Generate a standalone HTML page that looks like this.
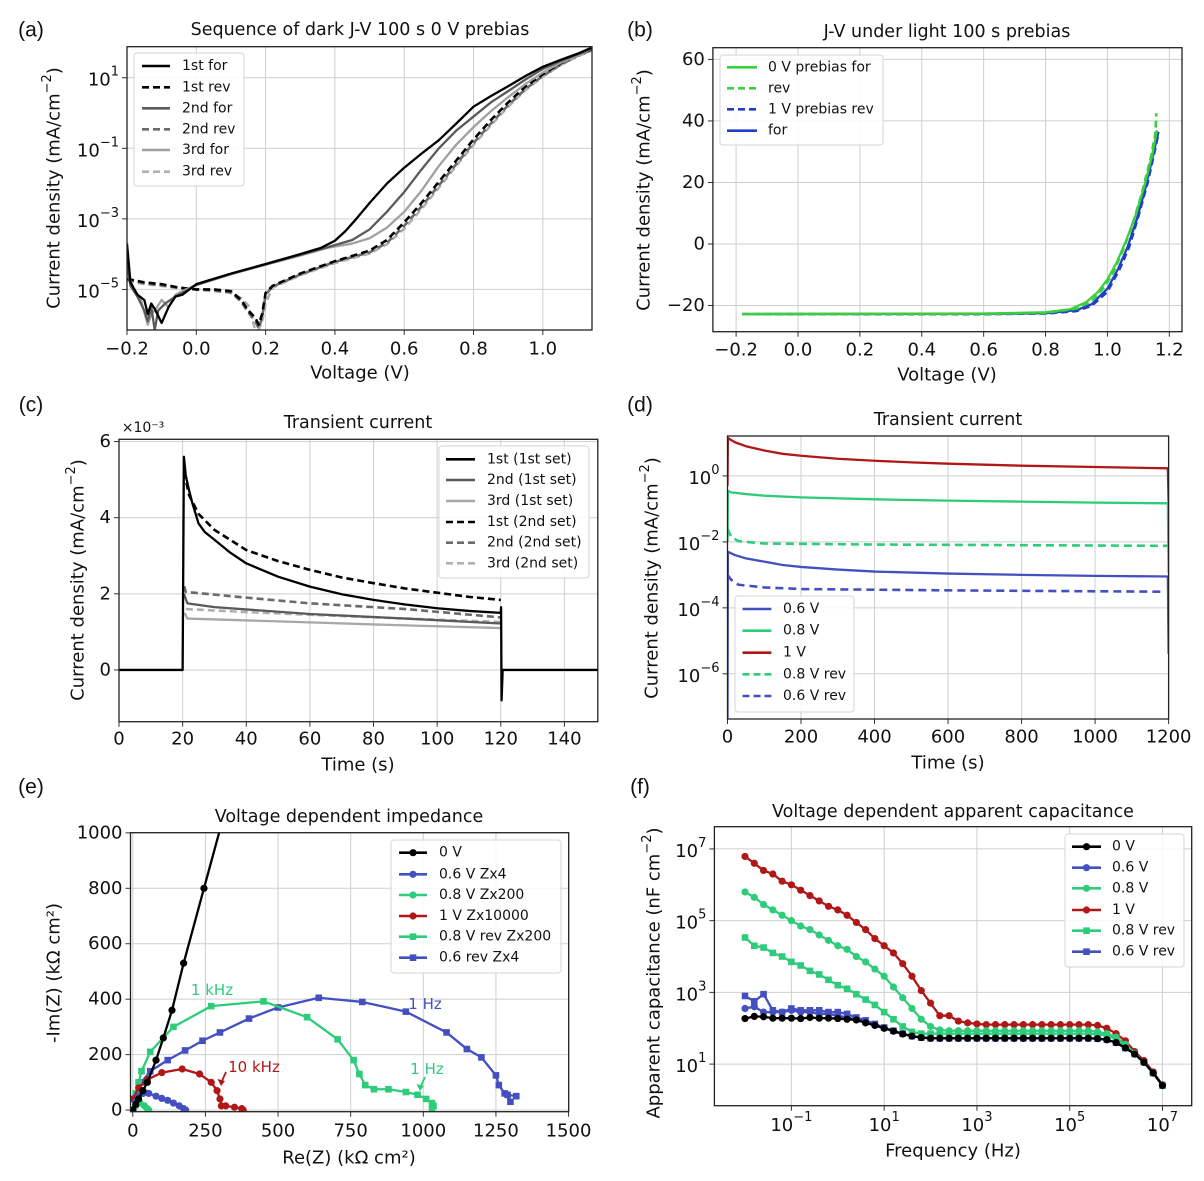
<!DOCTYPE html>
<html><head><meta charset="utf-8"><title>Figure</title>
<style>
html,body{margin:0;padding:0;background:#fff;}
svg{display:block;font-family:"DejaVu Sans","Liberation Sans",sans-serif;}
</style></head>
<body>
<svg id="fig" width="1204" height="1181" viewBox="0 0 1204 1181" xmlns="http://www.w3.org/2000/svg">
<defs id="defs"></defs>
</svg>
<script>
// ---------- Panel (a) data: voltage (V), log10 current density ----------
const aFor1 = [[-0.2,-3.7],[-0.19,-4.8],[-0.17,-5.15],[-0.15,-5.3],[-0.14,-5.7],[-0.13,-5.4],[-0.12,-5.55],[-0.1,-5.95],[-0.08,-5.5],[-0.06,-5.2],[-0.04,-5.15],[-0.02,-5.0],[0,-4.85],[0.1,-4.55],[0.2,-4.28],[0.3,-4.0],[0.36,-3.82],[0.4,-3.62],[0.43,-3.35],[0.46,-3.02],[0.5,-2.55],[0.55,-2.0],[0.6,-1.55],[0.65,-1.15],[0.7,-0.77],[0.75,-0.3],[0.8,0.18],[0.85,0.48],[0.9,0.76],[0.95,1.05],[1.0,1.31],[1.05,1.5],[1.1,1.68],[1.14,1.85]];
const aRev1 = [[-0.2,-4.7],[-0.15,-4.8],[-0.1,-4.85],[-0.05,-4.95],[0,-5.0],[0.05,-5.0],[0.1,-5.05],[0.13,-5.3],[0.15,-5.6],[0.17,-5.8],[0.18,-6.0],[0.19,-5.7],[0.2,-5.1],[0.22,-4.9],[0.3,-4.55],[0.4,-4.2],[0.5,-3.9],[0.55,-3.6],[0.6,-3.1],[0.65,-2.55],[0.7,-1.95],[0.75,-1.35],[0.8,-0.75],[0.85,-0.2],[0.9,0.3],[0.95,0.75],[1.0,1.1],[1.05,1.4],[1.1,1.65],[1.14,1.8]];
const aFor2 = [[-0.2,-4.2],[-0.19,-4.9],[-0.17,-5.2],[-0.15,-5.6],[-0.14,-5.9],[-0.13,-5.5],[-0.12,-6.15],[-0.11,-5.6],[-0.09,-5.4],[-0.06,-5.2],[-0.03,-5.05],[0,-4.87],[0.1,-4.56],[0.2,-4.29],[0.3,-4.02],[0.38,-3.8],[0.45,-3.6],[0.5,-3.3],[0.55,-2.8],[0.6,-2.24],[0.65,-1.6],[0.7,-1.0],[0.75,-0.5],[0.8,-0.1],[0.85,0.3],[0.9,0.62],[0.95,0.95],[1.0,1.25],[1.05,1.47],[1.1,1.66],[1.14,1.83]];
const aRev2 = [[-0.2,-4.72],[-0.15,-4.82],[-0.1,-4.88],[-0.05,-4.95],[0,-5.0],[0.05,-5.02],[0.1,-5.08],[0.13,-5.35],[0.15,-5.65],[0.17,-5.9],[0.18,-6.1],[0.19,-5.8],[0.2,-5.15],[0.22,-4.92],[0.3,-4.58],[0.4,-4.22],[0.5,-3.95],[0.55,-3.68],[0.6,-3.2],[0.65,-2.65],[0.7,-2.05],[0.75,-1.45],[0.8,-0.85],[0.85,-0.3],[0.9,0.22],[0.95,0.68],[1.0,1.05],[1.05,1.36],[1.1,1.62],[1.14,1.78]];
const aFor3 = [[-0.2,-4.5],[-0.18,-5.0],[-0.16,-5.3],[-0.14,-6.0],[-0.13,-5.7],[-0.12,-5.6],[-0.1,-5.3],[-0.08,-5.5],[-0.06,-5.15],[-0.03,-5.0],[0,-4.88],[0.1,-4.57],[0.2,-4.3],[0.3,-4.04],[0.38,-3.82],[0.45,-3.7],[0.5,-3.55],[0.55,-3.25],[0.6,-2.8],[0.65,-2.2],[0.7,-1.5],[0.75,-0.9],[0.8,-0.4],[0.85,0.05],[0.9,0.45],[0.95,0.82],[1.0,1.15],[1.05,1.42],[1.1,1.63],[1.14,1.82]];
const aRev3 = [[-0.2,-4.75],[-0.15,-4.85],[-0.1,-4.9],[-0.05,-4.97],[0,-5.0],[0.05,-5.05],[0.1,-5.1],[0.13,-5.25],[0.15,-5.45],[0.17,-6.15],[0.18,-6.15],[0.19,-5.9],[0.2,-5.4],[0.22,-4.95],[0.3,-4.6],[0.4,-4.25],[0.5,-3.98],[0.55,-3.72],[0.6,-3.28],[0.65,-2.72],[0.7,-2.12],[0.75,-1.5],[0.8,-0.9],[0.85,-0.35],[0.9,0.18],[0.95,0.65],[1.0,1.03],[1.05,1.35],[1.1,1.6],[1.14,1.77]];
const aXTicks = [-0.2,0,0.2,0.4,0.6,0.8,1.0];
const aXTickLabels = ["\u22120.2","0.0","0.2","0.4","0.6","0.8","1.0"];
const aYTicks = [1,-1,-3,-5];

// ---------- Panel (b) data: voltage (V), J (mA/cm2) ----------
const bGreenFor = [[-0.18,-22.7],[0.6,-22.6],[0.8,-22.2],[0.88,-21.2],[0.93,-19],[0.97,-15.5],[1.0,-11.5],[1.03,-6],[1.06,1],[1.09,9],[1.12,19],[1.145,29],[1.16,37]];
const bGreenRev = [[-0.18,-22.8],[0.6,-22.7],[0.8,-22.4],[0.9,-21.0],[0.95,-18.5],[0.99,-14],[1.02,-9],[1.05,-2],[1.08,6],[1.11,16],[1.14,28],[1.155,36],[1.158,42.5]];
const bBlueRev = [[-0.18,-22.8],[0.6,-22.8],[0.8,-22.6],[0.9,-21.8],[0.95,-20],[1.0,-15.5],[1.04,-8],[1.07,-1],[1.1,9],[1.13,20],[1.15,29],[1.165,36]];
const bBlueFor = [[-0.18,-22.8],[0.6,-22.7],[0.8,-22.5],[0.9,-21.5],[0.95,-19.5],[1.0,-14.5],[1.035,-8],[1.065,-1],[1.095,8],[1.125,19],[1.15,30],[1.165,36.5]];
const bXTicks = [-0.2,0,0.2,0.4,0.6,0.8,1.0,1.2];
const bXTickLabels = ["\u22120.2","0.0","0.2","0.4","0.6","0.8","1.0","1.2"];
const bYTicks = [-20,0,20,40,60];
const bYTickLabels = ["\u221220","0","20","40","60"];

// ---------- Panel (c) data: time (s), J (x1e-3 mA/cm2) ----------
const c1st1 = [[0,0],[20,0],[20.4,5.6],[21,5.1],[22,4.73],[23,4.4],[25,3.85],[27,3.62],[30,3.42],[35,3.08],[40,2.8],[50,2.45],[60,2.19],[70,1.99],[80,1.84],[90,1.72],[100,1.62],[110,1.55],[120,1.5],[120.1,1.65],[120.25,-0.8],[120.6,0],[150.5,0]];
const c2nd1 = [[20.4,2.0],[21.5,1.75],[30,1.65],[60,1.47],[90,1.35],[120,1.22]];
const c3rd1 = [[20.6,1.5],[21.5,1.35],[60,1.25],[90,1.17],[120,1.1]];
const c1st2 = [[20.5,5.2],[22,4.6],[25,4.1],[30,3.68],[40,3.15],[50,2.86],[60,2.63],[70,2.43],[80,2.28],[90,2.14],[100,2.03],[110,1.92],[120,1.84]];
const c2nd2 = [[20.5,2.2],[21,2.05],[40,1.9],[60,1.75],[90,1.6],[120,1.38]];
const c3rd2 = [[21,1.6],[40,1.52],[60,1.45],[90,1.35],[120,1.26]];
const cXTicks = [0,20,40,60,80,100,120,140];
const cYTicks = [0,2,4,6];

// ---------- Panel (d) data: time (s), log10 J ----------
const d06 = [[0,-7.37],[1,-2.3],[20,-2.4],[50,-2.5],[100,-2.6],[150,-2.7],[200,-2.76],[300,-2.84],[400,-2.9],[600,-2.96],[800,-3.0],[1000,-3.03],[1198,-3.05],[1200,-5.4]];
const d08 = [[0,-2.0],[1,-0.45],[10,-0.5],[50,-0.55],[100,-0.6],[200,-0.65],[400,-0.71],[600,-0.75],[800,-0.78],[1000,-0.81],[1198,-0.83],[1200,-2.95]];
const d10 = [[0,-0.3],[1,1.15],[5,1.12],[20,1.02],[50,0.9],[100,0.77],[150,0.67],[200,0.61],[300,0.52],[400,0.46],[500,0.41],[600,0.37],[800,0.31],[1000,0.27],[1198,0.23],[1200,-0.8]];
const d08rev = [[0,-1.6],[10,-1.85],[30,-1.98],[100,-2.05],[400,-2.08],[800,-2.1],[1200,-2.12]];
const d06rev = [[0,-3.0],[10,-3.15],[30,-3.3],[100,-3.38],[200,-3.43],[600,-3.47],[1180,-3.51]];
const dXTicks = [0,200,400,600,800,1000,1200];
const dYTicks = [0,-2,-4,-6];

// ---------- Panel (e) data: Re(Z), -Im(Z) (kOhm cm2) ----------
const e0V = [[0,0],[10,20],[20,40],[35,70],[50,100],[80,180],[105,260],[135,360],[175,530],[245,800],[310,1050]];
const e06 = [[0,0],[10,30],[20,50],[35,60],[55,60],[80,50],[100,42],[120,35],[140,25],[160,15],[175,5],[182,0]];
const e08 = [[0,0],[10,15],[25,25],[40,15],[50,5],[55,0]];
const e10 = [[0,40],[20,80],[50,110],[100,135],[170,148],[230,130],[270,100],[290,70],[300,40],[305,15],[320,15],[350,10],[375,5],[380,0]];
const e08rev = [[0,0],[10,60],[20,100],[30,140],[60,210],[140,300],[270,375],[450,392],[600,335],[705,255],[760,180],[780,130],[800,90],[830,75],[880,75],[940,65],[980,55],[1010,40],[1030,25],[1035,15],[1030,5]];
const e06rev = [[0,0],[30,100],[60,140],[120,180],[180,215],[240,250],[300,280],[400,330],[500,370],[640,405],[790,390],[940,355],[1080,280],[1150,220],[1200,190],[1250,125],[1260,90],[1280,60],[1300,30],[1290,55],[1320,50]];
const eXTicks = [0,250,500,750,1000,1250,1500];
const eYTicks = [0,200,400,600,800,1000];

// ---------- Panel (f) data: log10 f = -2 + 0.2*i, log10 C ----------
const fLogFreq = [-2,-1.8,-1.6,-1.4,-1.2,-1,-0.8,-0.6,-0.4,-0.2,0,0.2,0.4,0.6,0.8,1,1.2,1.4,1.6,1.8,2,2.2,2.4,2.6,2.8,3,3.2,3.4,3.6,3.8,4,4.2,4.4,4.6,4.8,5,5.2,5.4,5.6,5.8,6,6.2,6.4,6.6,6.8,7];
const f0V = [2.27,2.33,2.32,2.28,2.28,2.28,2.27,2.3,2.28,2.28,2.27,2.25,2.23,2.15,2.08,2.0,1.92,1.84,1.78,1.74,1.72,1.72,1.72,1.72,1.72,1.72,1.72,1.72,1.72,1.72,1.72,1.72,1.72,1.72,1.72,1.72,1.72,1.72,1.71,1.68,1.6,1.45,1.28,1.05,0.75,0.4];
const f06 = [2.55,2.6,2.45,2.45,2.45,2.5,2.45,2.45,2.4,2.4,2.35,2.3,2.25,2.18,2.08,2.0,1.92,1.84,1.78,1.74,1.72,1.72,1.72,1.72,1.72,1.72,1.72,1.72,1.72,1.72,1.72,1.72,1.72,1.72,1.72,1.72,1.72,1.72,1.71,1.68,1.6,1.45,1.28,1.05,0.75,0.42];
const f08 = [5.8,5.65,5.45,5.3,5.15,5.0,4.85,4.75,4.6,4.45,4.3,4.2,4.0,3.85,3.65,3.45,3.15,2.85,2.55,2.25,2.05,1.95,1.93,1.93,1.93,1.93,1.93,1.93,1.93,1.93,1.93,1.93,1.93,1.93,1.93,1.93,1.93,1.93,1.9,1.85,1.75,1.55,1.3,1.05,0.75,0.4];
const f10 = [6.79,6.6,6.4,6.3,6.1,6.0,5.85,5.7,5.55,5.4,5.3,5.15,4.95,4.75,4.5,4.3,4.1,3.8,3.45,3.05,2.7,2.35,2.35,2.2,2.15,2.12,2.1,2.1,2.1,2.1,2.1,2.1,2.1,2.1,2.1,2.1,2.1,2.1,2.08,2.0,1.85,1.65,1.35,1.1,0.78,0.42];
const f08rev = [4.53,4.3,4.25,4.1,4.0,3.85,3.75,3.6,3.5,3.35,3.2,3.1,2.95,2.8,2.65,2.45,2.25,2.05,1.9,1.85,1.85,1.85,1.85,1.85,1.85,1.85,1.85,1.85,1.85,1.85,1.85,1.85,1.85,1.85,1.85,1.85,1.85,1.85,1.83,1.8,1.7,1.5,1.28,1.05,0.75,0.4];
const f06rev = [2.9,2.75,2.95,2.5,2.45,2.55,2.5,2.5,2.5,2.45,2.45,2.4,2.3,2.22,2.12,2.02,1.93,1.85,1.78,1.74,1.72,1.72,1.72,1.72,1.72,1.72,1.72,1.72,1.72,1.72,1.72,1.72,1.72,1.72,1.72,1.72,1.72,1.72,1.71,1.68,1.6,1.45,1.28,1.05,0.75,0.4];
const fXTicks = [-1,1,3,5,7];
const fYTicks = [1,3,5,7];

// ---------- helpers ----------
const NS = "http://www.w3.org/2000/svg";
const svg = document.getElementById('fig');
const defs = document.getElementById('defs');
function mk(tag, attrs, parent, name, inter) {
  const e = document.createElementNS(NS, tag);
  for (const k in attrs) e.setAttribute(k, attrs[k]);
  
  
  (parent || svg).appendChild(e);
  return e;
}
function txt(x, y, s, size, parent, name, extra) {
  const a = Object.assign({x: x, y: y, 'font-size': size, 'text-anchor': 'middle', 'dominant-baseline': 'central', fill: '#111'}, extra || {});
  const t = mk('text', a, parent, name, false);
  t.textContent = s;
  return t;
}
function powLabel(x, y, exp, parent, name, anchor) {
  const t = mk('text', {x: x, y: y, 'font-size': 18, 'text-anchor': anchor, 'dominant-baseline': 'central', fill: '#111'}, parent, name, false);
  const base = document.createElementNS(NS, 'tspan');
  base.textContent = '10';
  t.appendChild(base);
  const sup = document.createElementNS(NS, 'tspan');
  sup.setAttribute('dy', '-8');
  sup.setAttribute('font-size', '13');
  sup.textContent = exp < 0 ? '\u2212' + (-exp) : String(exp);
  t.appendChild(sup);
  return t;
}
function makeAxes(id, L, R, T, B, xd, yd) {
  const g = mk('g', {}, svg, id + '-panel', false);
  const x = v => L + (v - xd[0]) / (xd[1] - xd[0]) * (R - L);
  const y = v => B - (v - yd[0]) / (yd[1] - yd[0]) * (B - T);
  const cp = mk('clipPath', {id: 'clip-' + id}, defs, id + '-clip', false);
  mk('rect', {x: L, y: T, width: R - L, height: B - T}, cp, id + '-clip-rect', false);
  const grid = mk('g', {stroke: '#cfcfcf', 'stroke-width': 1}, g, id + '-grid', false);
  const plot = mk('g', {'clip-path': 'url(#clip-' + id + ')'}, g, id + '-plot-area', false);
  return {g, x, y, L, R, T, B, grid, plot, id};
}
function xTicks(ax, ticks, labels, ly, pow) {
  ticks.forEach((t, i) => {
    const px = ax.x(t);
    mk('line', {x1: px, x2: px, y1: ax.T, y2: ax.B}, ax.grid, ax.id + '-x-grid', false);
    mk('line', {x1: px, x2: px, y1: ax.B, y2: ax.B + 5, stroke: '#333', 'stroke-width': 1}, ax.g, ax.id + '-x-tick', false);
    if (pow) powLabel(px, ly, t, ax.g, ax.id + '-x-tick-label', 'middle');
    else txt(px, ly, labels ? labels[i] : String(t), 18, ax.g, ax.id + '-x-tick-label');
  });
}
function yTicks(ax, ticks, labels, pow) {
  ticks.forEach((t, i) => {
    const py = ax.y(t);
    mk('line', {x1: ax.L, x2: ax.R, y1: py, y2: py}, ax.grid, ax.id + '-y-grid', false);
    mk('line', {x1: ax.L - 5, x2: ax.L, y1: py, y2: py, stroke: '#333', 'stroke-width': 1}, ax.g, ax.id + '-y-tick', false);
    if (pow) powLabel(ax.L - 8, py + 2, t, ax.g, ax.id + '-y-tick-label', 'end');
    else txt(ax.L - 8, py, labels ? labels[i] : String(t), 18, ax.g, ax.id + '-y-tick-label', {'text-anchor': 'end'});
  });
}
function frame(ax) {
  mk('rect', {x: ax.L, y: ax.T, width: ax.R - ax.L, height: ax.B - ax.T, fill: 'none', stroke: '#222', 'stroke-width': 1.3}, ax.g, ax.id + '-frame', false);
}
function line(ax, data, color, dash, name, w) {
  const pts = data.map(d => ax.x(d[0]).toFixed(2) + ',' + ax.y(d[1]).toFixed(2)).join(' ');
  const a = {points: pts, fill: 'none', stroke: color, 'stroke-width': w || 2.3, 'stroke-linejoin': 'round'};
  if (dash) a['stroke-dasharray'] = dash;
  return mk('polyline', a, ax.plot, name, false);
}
function markers(ax, data, color, shape, name) {
  const g = mk('g', {fill: color}, ax.plot, name, false);
  data.forEach(d => {
    const px = ax.x(d[0]), py = ax.y(d[1]);
    if (shape === 'sq') mk('rect', {x: px - 3.3, y: py - 3.3, width: 6.6, height: 6.6}, g, name + '-point', false);
    else mk('circle', {cx: px, cy: py, r: 3.6}, g, name + '-point', false);
  });
}
function legend(x, y, w, h, items, textX, lineX1, lineX2, ys, name) {
  const g = mk('g', {}, svg, name, false);
  mk('rect', {x: x, y: y, width: w, height: h, rx: 3, fill: '#fff', 'fill-opacity': 0.85, stroke: '#d6d6d6', 'stroke-width': 1}, g, name + '-box', false);
  items.forEach((it, i) => {
    const e = mk('g', {}, g, 'legend-entry', false);
    const a = {x1: lineX1, x2: lineX2, y1: ys[i], y2: ys[i], stroke: it.c, 'stroke-width': 2.6};
    if (it.d) a['stroke-dasharray'] = it.d;
    mk('line', a, e, 'legend-line', false);
    const mx = (lineX1 + lineX2) / 2;
    if (it.m === 'sq') mk('rect', {x: mx - 3.3, y: ys[i] - 3.3, width: 6.6, height: 6.6, fill: it.c}, e, 'legend-marker', false);
    if (it.m === 'c') mk('circle', {cx: mx, cy: ys[i], r: 3.6, fill: it.c}, e, 'legend-marker', false);
    txt(textX, ys[i], it.t, 14, e, 'legend-label', {'text-anchor': 'start'});
  });
}
function ylabel(x, y, s, name) {
  const t = mk('text', {x: 0, y: 0, 'font-size': 18, 'text-anchor': 'middle', 'dominant-baseline': 'central', fill: '#111', transform: 'translate(' + x + ',' + y + ') rotate(-90)'}, svg, name, false);
  t.innerHTML = s;
}

// panel letters
[['(a)',31,30],['(b)',640,30],['(c)',31,405],['(d)',640,405],['(e)',31,787],['(f)',640,787]].forEach(p => {
  txt(p[1], p[2], p[0], 21, svg, 'panel-label', {'font-family': 'Liberation Sans, sans-serif'});
});

// ---------- (a) ----------
const A = makeAxes('a', 127, 592, 46.7, 330, [-0.2, 1.142], [-6.15, 1.88]);
xTicks(A, aXTicks, aXTickLabels, 349);
yTicks(A, aYTicks, null, true);
line(A, aRev3, '#b0b0b0', '7,4', 'series-3rd-rev', 2.6);
line(A, aRev2, '#6a6a6a', '7,4', 'series-2nd-rev', 2.6);
line(A, aRev1, '#000', '7,4', 'series-1st-rev', 2.6);
line(A, aFor3, '#a0a0a0', null, 'series-3rd-for');
line(A, aFor2, '#5a5a5a', null, 'series-2nd-for');
line(A, aFor1, '#000', null, 'series-1st-for');
frame(A);
txt(360, 30, 'Sequence of dark J-V 100 s 0 V prebias', 17.5, svg, 'title-a');
txt(360, 373, 'Voltage (V)', 18, svg, 'x-axis-title-a');
ylabel(54, 188, 'Current density (mA/cm<tspan dy="-7" font-size="13">\u22122</tspan><tspan dy="7">)</tspan>', 'y-axis-title-a');
legend(134, 53, 110, 133, [
  {t:'1st for', c:'#000'},{t:'1st rev', c:'#000', d:'7,4'},
  {t:'2nd for', c:'#5a5a5a'},{t:'2nd rev', c:'#6a6a6a', d:'7,4'},
  {t:'3rd for', c:'#a0a0a0'},{t:'3rd rev', c:'#b0b0b0', d:'7,4'}
], 182, 142, 170, [66,87.3,108.3,129.3,150,171.7], 'legend-a');

// ---------- (b) ----------
const Bx = makeAxes('b', 712.9, 1182, 47.7, 331.7, [-0.275, 1.241], [-28.5, 63.8]);
xTicks(Bx, bXTicks, bXTickLabels, 350);
yTicks(Bx, bYTicks, bYTickLabels, false);
line(Bx, bBlueFor, '#1f3fc8', null, 'series-1v-for');
line(Bx, bBlueRev, '#1f3fc8', '7,4', 'series-1v-rev', 2.6);
line(Bx, bGreenRev, '#3ccf3c', '7,4', 'series-0v-rev', 2.6);
line(Bx, bGreenFor, '#3ccf3c', null, 'series-0v-for');
frame(Bx);
txt(947, 32, 'J-V under light 100 s prebias', 17.5, svg, 'title-b');
txt(947, 375, 'Voltage (V)', 18, svg, 'x-axis-title-b');
ylabel(644, 190, 'Current density (mA/cm<tspan dy="-7" font-size="13">\u22122</tspan><tspan dy="7">)</tspan>', 'y-axis-title-b');
legend(720, 55, 163, 90, [
  {t:'0 V prebias for', c:'#3ccf3c'},{t:'rev', c:'#3ccf3c', d:'7,4'},
  {t:'1 V prebias rev', c:'#1f3fc8', d:'7,4'},{t:'for', c:'#1f3fc8'}
], 768, 727, 757, [67.3,88.3,109.3,130.7], 'legend-b');

// ---------- (c) ----------
const C = makeAxes('c', 119, 597.8, 439.3, 721.7, [0, 150.5], [-1.36, 6.06]);
xTicks(C, cXTicks, null, 739);
yTicks(C, cYTicks, null, false);
line(C, c3rd2, '#b0b0b0', '7,4', 'series-3rd-2nd-set', 2.6);
line(C, c2nd2, '#6a6a6a', '7,4', 'series-2nd-2nd-set', 2.6);
line(C, c3rd1, '#a8a8a8', null, 'series-3rd-1st-set');
line(C, c2nd1, '#5a5a5a', null, 'series-2nd-1st-set');
line(C, c1st2, '#000', '7,4', 'series-1st-2nd-set', 2.6);
line(C, c1st1, '#000', null, 'series-1st-1st-set');
frame(C);
txt(358, 423, 'Transient current', 17.5, svg, 'title-c');
txt(143, 428, '\u00d710\u207b\u00b3', 14, svg, 'y-offset-label-c');
txt(358, 765, 'Time (s)', 18, svg, 'x-axis-title-c');
ylabel(78, 580, 'Current density (mA/cm<tspan dy="-7" font-size="13">\u22122</tspan><tspan dy="7">)</tspan>', 'y-axis-title-c');
legend(439, 446, 150, 132, [
  {t:'1st (1st set)', c:'#000'},{t:'2nd (1st set)', c:'#5a5a5a'},{t:'3rd (1st set)', c:'#a8a8a8'},
  {t:'1st (2nd set)', c:'#000', d:'7,4'},{t:'2nd (2nd set)', c:'#6a6a6a', d:'7,4'},{t:'3rd (2nd set)', c:'#b0b0b0', d:'7,4'}
], 487, 446, 475, [459.3,480,501,522,542.7,563.3], 'legend-c');

// ---------- (d) ----------
const BLUE = '#4450c0', GREEN = '#2ecc7a', RED = '#b01818';
const D = makeAxes('d', 727.5, 1168.6, 436, 719, [0, 1200], [-7.37, 1.21]);
xTicks(D, dXTicks, null, 737);
yTicks(D, dYTicks, null, true);
line(D, d06, BLUE, null, 'series-0.6v');
line(D, d08, GREEN, null, 'series-0.8v');
line(D, d10, RED, null, 'series-1v');
line(D, d08rev, GREEN, '8,5', 'series-0.8v-rev', 2.6);
line(D, d06rev, BLUE, '8,5', 'series-0.6v-rev', 2.6);
frame(D);
txt(948, 420, 'Transient current', 17.5, svg, 'title-d');
txt(948, 763, 'Time (s)', 18, svg, 'x-axis-title-d');
ylabel(652, 578, 'Current density (mA/cm<tspan dy="-7" font-size="13">\u22122</tspan><tspan dy="7">)</tspan>', 'y-axis-title-d');
legend(735, 596, 119, 116, [
  {t:'0.6 V', c:BLUE},{t:'0.8 V', c:GREEN},{t:'1 V', c:RED},
  {t:'0.8 V rev', c:GREEN, d:'7,4'},{t:'0.6 V rev', c:BLUE, d:'7,4'}
], 783, 742.5, 771.4, [609,630.7,652.7,674.3,696], 'legend-d');

// ---------- (e) ----------
const E = makeAxes('e', 130.5, 568.7, 832.7, 1111.7, [-7.9, 1500.5], [-6, 1000.6]);
xTicks(E, eXTicks, null, 1131);
yTicks(E, eYTicks, null, false);
[[e06rev, BLUE, 'sq', 'series-0.6-rev-zx4'], [e08rev, GREEN, 'sq', 'series-0.8v-rev-zx200'],
 [e10, RED, 'c', 'series-1v-zx10000'], [e08, GREEN, 'c', 'series-0.8v-zx200'],
 [e06, BLUE, 'c', 'series-0.6v-zx4'], [e0V, '#000', 'c', 'series-0v']].forEach(s => {
  line(E, s[0], s[1], null, s[3]);
  markers(E, s[0], s[1], s[2], s[3] + '-markers');
});
frame(E);
txt(349, 817, 'Voltage dependent impedance', 17.5, svg, 'title-e');
txt(349, 1158, 'Re(Z) (k\u03a9 cm\u00b2)', 18, svg, 'x-axis-title-e');
ylabel(54, 973, '-Im(Z) (k\u03a9 cm\u00b2)', 'y-axis-title-e');
txt(212, 990, '1 kHz', 15, svg, 'annotation-1khz', {fill: GREEN});
txt(425, 1004, '1 Hz', 15, svg, 'annotation-1hz-blue', {fill: BLUE});
txt(254, 1067, '10 kHz', 15, svg, 'annotation-10khz', {fill: RED});
txt(427, 1069, '1 Hz', 15, svg, 'annotation-1hz-green', {fill: GREEN});
mk('line', {x1: 226, y1: 1072, x2: 221.5, y2: 1082, stroke: RED, 'stroke-width': 1.8}, svg, 'arrow-10khz', false);
mk('polygon', {points: '217.5,1079 221,1086 225,1081', fill: RED}, svg, 'arrow-10khz-head', false);
mk('line', {x1: 425, y1: 1077, x2: 420.5, y2: 1087, stroke: GREEN, 'stroke-width': 1.8}, svg, 'arrow-1hz', false);
mk('polygon', {points: '416.5,1084 420,1091 424,1086', fill: GREEN}, svg, 'arrow-1hz-head', false);
legend(391, 840, 170, 133, [
  {t:'0 V', c:'#000', m:'c'},{t:'0.6 V Zx4', c:BLUE, m:'c'},{t:'0.8 V Zx200', c:GREEN, m:'c'},
  {t:'1 V Zx10000', c:RED, m:'c'},{t:'0.8 V rev Zx200', c:GREEN, m:'sq'},{t:'0.6 rev Zx4', c:BLUE, m:'sq'}
], 439, 399, 427, [852.7,874.3,895,916,936.7,957.7], 'legend-e');

// ---------- (f) ----------
const F = makeAxes('f', 714.4, 1191.7, 826.7, 1105.7, [-2.66, 7.63], [-0.16, 7.62]);
xTicks(F, fXTicks, null, 1125, true);
yTicks(F, fYTicks, null, true);
function zipF(vals) { return fLogFreq.map((f, i) => [f, vals[i]]); }
[[f06rev, BLUE, 'sq', 'series-0.6v-rev'], [f08rev, GREEN, 'sq', 'series-0.8v-rev'],
 [f10, RED, 'c', 'series-1v'], [f08, GREEN, 'c', 'series-0.8v'],
 [f06, BLUE, 'c', 'series-0.6v'], [f0V, '#000', 'c', 'series-0v']].forEach(s => {
  const d = zipF(s[0]);
  line(F, d, s[1], null, 'f-' + s[3]);
  markers(F, d, s[1], s[2], 'f-' + s[3] + '-markers');
});
frame(F);
txt(953, 812, 'Voltage dependent apparent capacitance', 17.5, svg, 'title-f');
txt(953, 1151, 'Frequency (Hz)', 18, svg, 'x-axis-title-f');
ylabel(654, 973, 'Apparent capacitance (nF cm<tspan dy="-7" font-size="13">\u22122</tspan><tspan dy="7">)</tspan>', 'y-axis-title-f');
legend(1065, 834, 119, 133, [
  {t:'0 V', c:'#000', m:'c'},{t:'0.6 V', c:BLUE, m:'c'},{t:'0.8 V', c:GREEN, m:'c'},
  {t:'1 V', c:RED, m:'c'},{t:'0.8 V rev', c:GREEN, m:'sq'},{t:'0.6 V rev', c:BLUE, m:'sq'}
], 1112, 1072, 1101, [846.7,867.7,888.3,910,930.7,951.7], 'legend-f');
</script>
</body></html>
